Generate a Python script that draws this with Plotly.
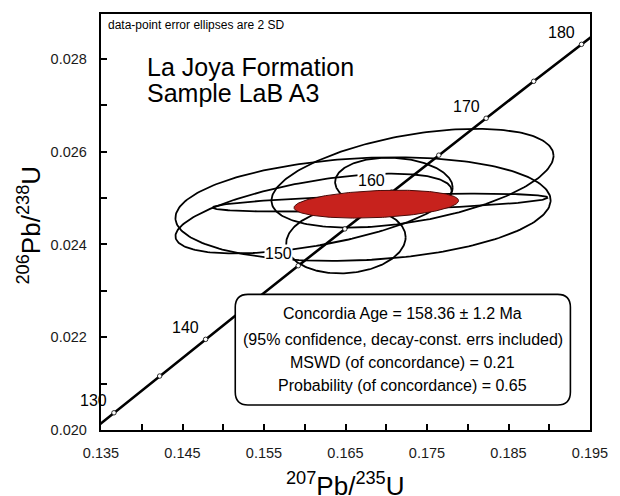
import numpy as np
import plotly.graph_objects as go

# ---------------- data ----------------
# Concordia curve points (age in Ma, 207Pb/235U, 206Pb/238U)
conc_age = [125, 130, 135, 140, 145, 150, 155, 160, 165, 170, 175, 180, 185]
conc_x = [0.131004, 0.136588, 0.142198, 0.147837, 0.153503, 0.159197, 0.164919,
          0.170670, 0.176449, 0.182256, 0.188092, 0.193957, 0.199851]
conc_y = [0.019580, 0.020371, 0.021163, 0.021955, 0.022748, 0.023542, 0.024336,
          0.025131, 0.025926, 0.026722, 0.027519, 0.028316, 0.029114]
label_ages = [130, 140, 150, 160, 170, 180]

# Data-point error ellipses (2 SD): centre, half-widths, error correlation
ell_x = [0.173221, 0.167151, 0.161082, 0.169255, 0.170937, 0.165048]
ell_y = [0.025430, 0.024763, 0.024667, 0.024903, 0.025290, 0.024086]
ell_sx = [0.017308, 0.023017, 0.016947, 0.020553, 0.007212, 0.007332]
ell_sy = [0.001065, 0.001118, 0.000860, 0.000194, 0.000581, 0.000710]
ell_rho = [0.455, 0.17, 0.57, 0.55, -0.10, 0.10]

# Concordia age ellipse
age_x, age_y, age_sx, age_sy, age_rho = 0.16878, 0.024870, 0.010096, 0.000301, 0.25

x_ticks = [0.135, 0.145, 0.155, 0.165, 0.175, 0.185, 0.195]
y_ticks = [0.020, 0.022, 0.024, 0.026, 0.028]

box_lines = ["Concordia Age = 158.36 ± 1.2 Ma",
             "(95% confidence, decay-const. errs included)",
             "MSWD (of concordance) = 0.21",
             "Probability (of concordance) = 0.65"]

FONT = "Liberation Sans, Arial, sans-serif"


def ellipse(x0, y0, sx, sy, rho, n=240):
    t = np.linspace(0, 2 * np.pi, n)
    xs = x0 + sx * np.cos(t)
    ys = y0 + sy * (rho * np.cos(t) + np.sqrt(1 - rho ** 2) * np.sin(t))
    return xs, ys


fig = go.Figure()

for i in range(len(ell_x)):
    ex, ey = ellipse(ell_x[i], ell_y[i], ell_sx[i], ell_sy[i], ell_rho[i])
    fig.add_trace(go.Scatter(x=ex, y=ey, mode="lines",
                             line=dict(color="black", width=1.8),
                             hoverinfo="skip", showlegend=False))

fig.add_trace(go.Scatter(x=conc_x, y=conc_y, mode="lines",
                         line=dict(color="black", width=2.6),
                         hoverinfo="skip", showlegend=False))

mk_x = [x for a, x in zip(conc_age, conc_x) if 130 <= a <= 180]
mk_y = [y for a, y in zip(conc_age, conc_y) if 130 <= a <= 180]
fig.add_trace(go.Scatter(x=mk_x, y=mk_y, mode="markers",
                         marker=dict(symbol="circle", size=4.5, color="white",
                                     line=dict(color="black", width=0.8)),
                         hoverinfo="skip", showlegend=False))

ax, ay = ellipse(age_x, age_y, age_sx, age_sy, age_rho)
fig.add_trace(go.Scatter(x=ax, y=ay, mode="lines", fill="toself",
                         fillcolor="#C7221D",
                         line=dict(color="#4a0a08", width=1),
                         hoverinfo="skip", showlegend=False))

annotations = []
for a in label_ages:
    i = conc_age.index(a)
    annotations.append(dict(x=conc_x[i], y=conc_y[i], xref="x", yref="y",
                            text=str(a), showarrow=False,
                            xshift=-20, yshift=12,
                            font=dict(family=FONT, size=16, color="black"),
                            bgcolor="rgba(0,0,0,0)" if a == 130 else "white",
                            borderpad=0))

# Title lines
annotations.append(dict(x=(146 - 101) / 499, y=(430 - 66) / 417, xref="paper", yref="paper",
                        text="La Joya Formation", showarrow=False, xanchor="left",
                        yanchor="middle", font=dict(family=FONT, size=25, color="black")))
annotations.append(dict(x=(146 - 101) / 499, y=(430 - 92) / 417, xref="paper", yref="paper",
                        text="Sample LaB A3", showarrow=False, xanchor="left",
                        yanchor="middle", font=dict(family=FONT, size=25, color="black")))
annotations.append(dict(x=(106 - 101) / 499, y=(430 - 24) / 417, xref="paper", yref="paper",
                        text="data-point error ellipses are 2 SD", showarrow=False,
                        xanchor="left", yanchor="middle",
                        font=dict(family=FONT, size=12, color="black")))

# Result box text
for py, line in zip([313, 339, 362, 385], box_lines):
    annotations.append(dict(x=(409 - 101) / 499, y=(430 - py) / 417, xref="paper", yref="paper",
                            text=line, showarrow=False, xanchor="center", yanchor="middle",
                            font=dict(family=FONT, size=16, color="black")))

# Axis titles
annotations.append(dict(x=0.5, y=0, xref="paper", yref="paper",
                        text="<sup>207</sup>Pb/<sup>235</sup>U", showarrow=False,
                        xanchor="center", yanchor="middle", yshift=-54,
                        font=dict(family=FONT, size=26, color="black")))
annotations.append(dict(x=0, y=(430 - 225) / 417, xref="paper", yref="paper",
                        text="<sup>206</sup>Pb/<sup>238</sup>U", showarrow=False,
                        xanchor="center", yanchor="middle", xshift=-71, textangle=-90,
                        font=dict(family=FONT, size=26, color="black")))

# Rounded box
x0, x1 = (238 - 101) / 499, (580 - 101) / 499
y0, y1 = (430 - 405) / 417, (430 - 294) / 417
rx, ry = 13 / 499, 13 / 417
path = (f"M {x0 + rx},{y0} L {x1 - rx},{y0} Q {x1},{y0} {x1},{y0 + ry} "
        f"L {x1},{y1 - ry} Q {x1},{y1} {x1 - rx},{y1} "
        f"L {x0 + rx},{y1} Q {x0},{y1} {x0},{y1 - ry} "
        f"L {x0},{y0 + ry} Q {x0},{y0} {x0 + rx},{y0} Z")
shapes = [dict(type="path", path=path, xref="paper", yref="paper",
               fillcolor="white", line=dict(color="black", width=1.6), layer="above")]

fig.update_layout(
    width=620, height=496,
    margin=dict(l=101, r=20, t=13, b=66),
    paper_bgcolor="white", plot_bgcolor="white",
    showlegend=False,
    annotations=annotations,
    shapes=shapes,
    xaxis=dict(range=[0.135, 0.195], tickvals=x_ticks,
               ticktext=[f"{v:.3f}" for v in x_ticks],
               ticks="inside", ticklen=6, tickwidth=2, tickcolor="black",
               minor=dict(ticks="inside", ticklen=6, tickwidth=2, tickcolor="black",
                          dtick=0.005, tick0=0.135),
               showline=True, linewidth=2.4, linecolor="black", mirror=True,
               showgrid=False, zeroline=False, ticklabelstandoff=8,
               tickfont=dict(family=FONT, size=14.5, color="#1a1a1a")),
    yaxis=dict(range=[0.020, 0.02897], tickvals=y_ticks,
               ticktext=[f"{v:.3f}" for v in y_ticks],
               ticks="inside", ticklen=6, tickwidth=2, tickcolor="black",
               minor=dict(ticks="inside", ticklen=6, tickwidth=2, tickcolor="black",
                          dtick=0.001, tick0=0.020),
               showline=True, linewidth=2.4, linecolor="black", mirror=True,
               showgrid=False, zeroline=False, ticklabelstandoff=9,
               tickfont=dict(family=FONT, size=14.5, color="#1a1a1a")),
)

fig.write_html("out.html")
